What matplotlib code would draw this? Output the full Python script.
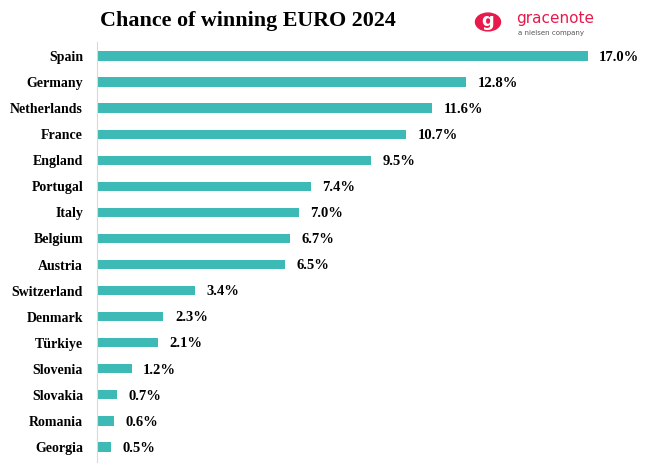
import matplotlib.pyplot as plt
from matplotlib.patches import Circle

countries = ["Spain", "Germany", "Netherlands", "France", "England", "Portugal",
             "Italy", "Belgium", "Austria", "Switzerland", "Denmark", "Türkiye",
             "Slovenia", "Slovakia", "Romania", "Georgia"]
chances = [17.0, 12.8, 11.6, 10.7, 9.5, 7.4, 7.0, 6.7, 6.5, 3.4, 2.3, 2.1,
           1.2, 0.7, 0.6, 0.5]

serif = ["Liberation Serif", "DejaVu Serif"]

fig = plt.figure(figsize=(6.52, 4.65), dpi=100)
ax = fig.add_axes([97 / 652, 3 / 465, (631 - 97) / 652, (462 - 42) / 465])

pos = list(range(len(countries)))
ax.barh(pos, chances, height=0.36, color="#3dbab5")
ax.set_xlim(0, 18.5)
ax.set_ylim(15.58, -0.54)

for p, v in zip(pos, chances):
    ax.text(v + 0.4, p + 0.05, f"{v:.1f}%", va="center", ha="left", fontsize=10.5,
            fontweight="bold", family=serif)

ax.set_yticks(pos)
ax.set_yticklabels(countries, fontsize=10, fontweight="bold", family=serif)
ax.tick_params(axis="y", length=0, pad=10)
ax.set_xticks([])
for s in ["top", "right", "bottom"]:
    ax.spines[s].set_visible(False)
ax.spines["left"].set_color("#d9d9d9")
ax.spines["left"].set_linewidth(0.8)

fig.text(100 / 652, 1 - 21 / 465, "Chance of winning EURO 2024", fontsize=15.8,
         fontweight="bold", family=serif, va="center")

# gracenote logo
circ = Circle((488 / 652, 1 - 22 / 465), 12.5 / 652, transform=fig.transFigure,
              color="#e8194b")
fig.patches.append(circ)
fig.text(488 / 652, 1 - 21 / 465, "g", color="white", fontsize=13,
         fontweight="bold", ha="center", va="center")
fig.text(516 / 652, 1 - 18 / 465, "gracenote", color="#e8194b", fontsize=11,
         ha="left", va="center")
fig.text(584 / 652, 1 - 33 / 465, "a nielsen company", color="#555555",
         fontsize=5, ha="right", va="center")

fig.savefig("out.png", dpi=100)
